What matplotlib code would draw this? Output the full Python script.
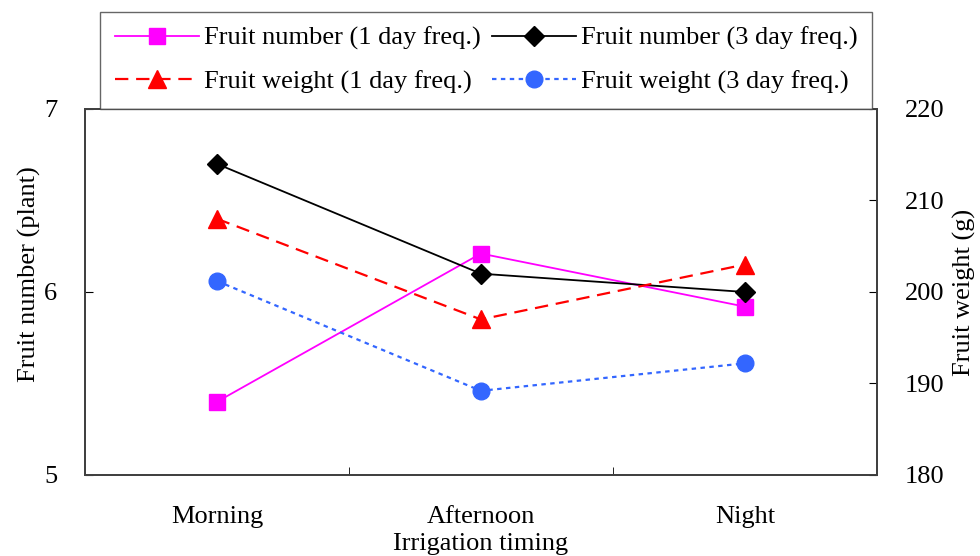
import matplotlib.pyplot as plt
import numpy as np

plt.rcParams['font.family'] = ['Liberation Serif', 'DejaVu Serif']
plt.rcParams['font.size'] = 19

timing = ['Morning', 'Afternoon', 'Night']
number_1day = [5.40, 6.21, 5.92]
number_3day = [6.70, 6.10, 6.00]
weight_1day = [208.0, 197.0, 203.0]
weight_3day = [201.2, 189.2, 192.2]

x = np.arange(len(timing))

fig = plt.figure(figsize=(9.8, 5.56), dpi=100)
ax = fig.add_axes([0.0867, 0.1457, 0.808, 0.6583])
ax2 = ax.twinx()

l1, = ax.plot(x, number_1day, color='#FF00FF', lw=1.3, marker='s', ms=11,
              label='Fruit number (1 day freq.)')
l2, = ax.plot(x, number_3day, color='black', lw=1.3, marker='D', ms=10,
              label='Fruit number (3 day freq.)')
l3, = ax2.plot(x, weight_1day, color='#FF0000', lw=1.6, ls=(0, (6, 3.5)),
               marker='^', ms=13, label='Fruit weight (1 day freq.)')
l4, = ax2.plot(x, weight_3day, color='#3366FF', lw=1.6, ls=(0, (2, 2)),
               marker='o', ms=12, label='Fruit weight (3 day freq.)')

ax.set_xlim(-0.5, 2.5)
ax.set_ylim(5, 7)
ax.set_yticks([5, 6, 7])
ax2.set_ylim(180, 220)
ax2.set_yticks([180, 190, 200, 210, 220])

ax.set_xticks(x)
ax.set_xticklabels(timing)
ax.set_xticks([0.5, 1.5], minor=True)
ax.tick_params(axis='x', which='major', length=0, pad=22)
ax.tick_params(axis='x', which='minor', direction='in', length=6)
ax.tick_params(axis='y', direction='in', length=6, pad=20)
ax2.tick_params(axis='y', direction='in', length=6, pad=20)

for a in (ax, ax2):
    for s in a.spines.values():
        s.set_color('#404040')
        s.set_linewidth(1.3)

ax.set_xlabel('Irrigation timing', labelpad=4)
ax.set_ylabel('Fruit number (plant)', labelpad=2)
ax.yaxis.label.set_y(0.55)
ax2.set_ylabel('Fruit weight (g)', labelpad=6)

# row-wise order: number 1d, number 3d / weight 1d, weight 3d
leg = fig.legend(handles=[l1, l3, l2, l4], ncol=2, loc='upper left',
                 bbox_to_anchor=(100 / 980, 1 - 12 / 556), borderaxespad=0,
                 frameon=True, fancybox=False, edgecolor='#404040',
                 handlelength=3.2, columnspacing=0.4, handletextpad=0.2,
                 borderpad=0.55, labelspacing=0.75, fontsize=19)
leg.get_frame().set_linewidth(1.0)

fig.savefig('out.png', dpi=100)
